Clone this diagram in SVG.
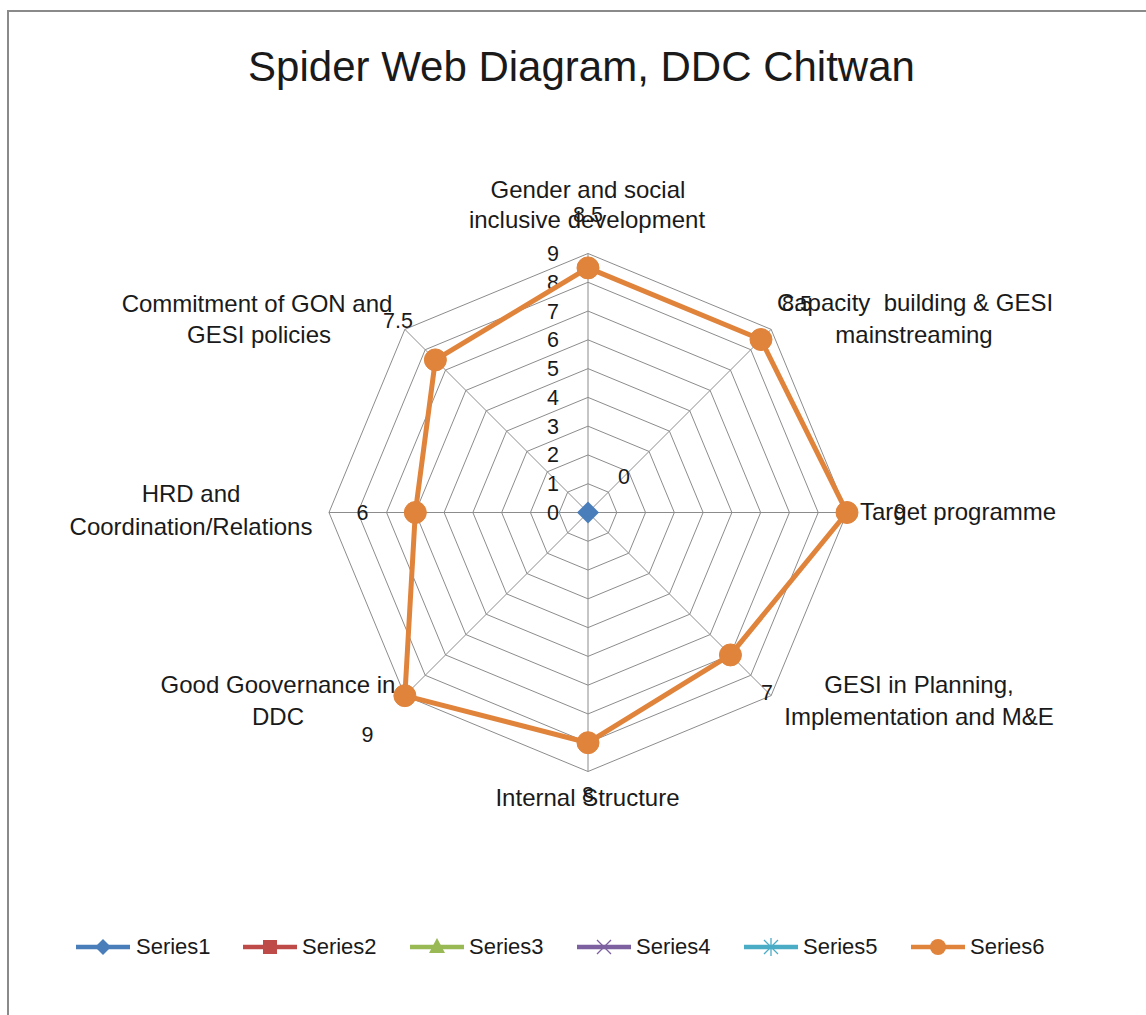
<svg xmlns="http://www.w3.org/2000/svg" width="1146" height="1015" viewBox="0 0 1146 1015">
<style>
text{font-family:"Liberation Sans",Arial,sans-serif;fill:#1a1a1a}
.ring,.spoke{fill:none;stroke:#8c8c8c;stroke-width:1}
.ax{font-size:24px;text-anchor:middle}
.tick{font-size:21.5px;text-anchor:end}
.dl{font-size:21.5px;text-anchor:middle}
.lg{font-size:22px}
.s6{stroke:#E0833B;fill:#E0833B}
</style>
<rect x="8" y="11" width="1160" height="1030" fill="#ffffff" stroke="#8a8a8a" stroke-width="2"/>
<g id="title"><text x="581.5" y="81" font-size="42" text-anchor="middle">Spider Web Diagram, DDC Chitwan</text></g>
<g id="grid" transform="translate(588,512.5)">
<polygon class="ring" points="0,-28.78 20.35,-20.35 28.78,0 20.35,20.35 0,28.78 -20.35,20.35 -28.78,0 -20.35,-20.35"/>
<polygon class="ring" points="0,-57.56 40.7,-40.7 57.56,0 40.7,40.7 0,57.56 -40.7,40.7 -57.56,0 -40.7,-40.7"/>
<polygon class="ring" points="0,-86.33 61.05,-61.05 86.33,0 61.05,61.05 0,86.33 -61.05,61.05 -86.33,0 -61.05,-61.05"/>
<polygon class="ring" points="0,-115.11 81.4,-81.4 115.11,0 81.4,81.4 0,115.11 -81.4,81.4 -115.11,0 -81.4,-81.4"/>
<polygon class="ring" points="0,-143.89 101.75,-101.75 143.89,0 101.75,101.75 0,143.89 -101.75,101.75 -143.89,0 -101.75,-101.75"/>
<polygon class="ring" points="0,-172.67 122.1,-122.1 172.67,0 122.1,122.1 0,172.67 -122.1,122.1 -172.67,0 -122.1,-122.1"/>
<polygon class="ring" points="0,-201.44 142.44,-142.44 201.44,0 142.44,142.44 0,201.44 -142.44,142.44 -201.44,0 -142.44,-142.44"/>
<polygon class="ring" points="0,-230.22 162.79,-162.79 230.22,0 162.79,162.79 0,230.22 -162.79,162.79 -230.22,0 -162.79,-162.79"/>
<polygon class="ring" points="0,-259 183.14,-183.14 259,0 183.14,183.14 0,259 -183.14,183.14 -259,0 -183.14,-183.14"/>
<path class="spoke" d="M0,0V-259M0,0L183.14,-183.14M0,0H259M0,0L183.14,183.14M0,0V259M0,0L-183.14,183.14M0,0H-259M0,0L-183.14,-183.14"/>
</g>
<g id="ticks">
<text class="tick" x="559" y="520">0</text>
<text class="tick" x="559" y="491.2">1</text>
<text class="tick" x="559" y="462.4">2</text>
<text class="tick" x="559" y="433.7">3</text>
<text class="tick" x="559" y="404.9">4</text>
<text class="tick" x="559" y="376.1">5</text>
<text class="tick" x="559" y="347.3">6</text>
<text class="tick" x="559" y="318.5">7</text>
<text class="tick" x="559" y="289.8">8</text>
<text class="tick" x="559" y="261">9</text>
</g>
<g id="axis-gender"><text class="ax" x="588" y="198">Gender and social</text><text class="ax" x="587" y="228">inclusive development</text></g>
<g id="axis-capacity"><text class="ax" x="915" y="311">Capacity&#160; building &amp; GESI</text><text class="ax" x="914" y="343">mainstreaming</text></g>
<g id="axis-target"><text class="ax" x="860" y="520" text-anchor="start" style="text-anchor:start">Target programme</text></g>
<g id="axis-gesi-planning"><text class="ax" x="919" y="693">GESI in Planning,</text><text class="ax" x="919" y="725">Implementation and M&amp;E</text></g>
<g id="axis-internal"><text class="ax" x="587.5" y="806">Internal Structure</text></g>
<g id="axis-governance"><text class="ax" x="278" y="693">Good Goovernance in</text><text class="ax" x="278" y="725">DDC</text></g>
<g id="axis-hrd"><text class="ax" x="191" y="502">HRD and</text><text class="ax" x="191" y="535">Coordination/Relations</text></g>
<g id="axis-commitment"><text class="ax" x="257" y="312">Commitment of GON and</text><text class="ax" x="259" y="343">GESI policies</text></g>
<g id="connectors" transform="translate(588,512.5)">
<polygon points="0,-244.61 172.97,-172.97 259,0 142.44,142.44 0,230.22 -183.14,183.14 -172.67,0 -152.62,-152.62" fill="none" stroke="#E0833B" stroke-width="5" stroke-linejoin="round"/>
</g>
<g id="series6-markers" class="s6" transform="translate(588,512.5)">
<circle cx="0" cy="-244.61" r="11"/>
<circle cx="172.97" cy="-172.97" r="11"/>
<circle cx="259" cy="0" r="11"/>
<circle cx="142.44" cy="142.44" r="11"/>
<circle cx="0" cy="230.22" r="11"/>
<circle cx="-183.14" cy="183.14" r="11"/>
<circle cx="-172.67" cy="0" r="11"/>
<circle cx="-152.62" cy="-152.62" r="11"/>
</g>
<g id="series1"><polygon points="588,501.5 599,512.5 588,523.5 577,512.5" fill="#4A7EBB"/></g>
<g id="data-labels">
<text class="dl" x="624" y="484">0</text>
<text class="dl" x="588" y="222">8.5</text>
<text class="dl" x="797" y="311">8.5</text>
<text class="dl" x="900" y="519">9</text>
<text class="dl" x="767" y="700">7</text>
<text class="dl" x="588" y="802">8</text>
<text class="dl" x="367.5" y="742">9</text>
<text class="dl" x="362.5" y="520">6</text>
<text class="dl" x="398" y="328">7.5</text>
</g>
<g id="legend">
<g id="legend-series1"><line x1="76" y1="947" x2="130" y2="947" stroke="#4A7EBB" stroke-width="4.5"/><polygon points="103,939 111,947 103,955 95,947" fill="#4A7EBB"/><text class="lg" x="136" y="954">Series1</text></g>
<g id="legend-series2"><line x1="243" y1="947" x2="297" y2="947" stroke="#BE4B48" stroke-width="4.5"/><rect x="263" y="940" width="14" height="14" fill="#BE4B48"/><text class="lg" x="302" y="954">Series2</text></g>
<g id="legend-series3"><line x1="410" y1="947" x2="464" y2="947" stroke="#98B954" stroke-width="4.5"/><polygon points="437,938 445,953 429,953" fill="#98B954"/><text class="lg" x="469" y="954">Series3</text></g>
<g id="legend-series4"><line x1="577" y1="947" x2="631" y2="947" stroke="#7D60A0" stroke-width="4.5"/><path d="M597,940L611,954M611,940L597,954" stroke="#7D60A0" stroke-width="1.3"/><text class="lg" x="636" y="954">Series4</text></g>
<g id="legend-series5"><line x1="744" y1="947" x2="798" y2="947" stroke="#4BACC6" stroke-width="4.5"/><path d="M764,940L778,954M778,940L764,954M771,938V956" stroke="#4BACC6" stroke-width="1.3"/><text class="lg" x="803" y="954">Series5</text></g>
<g id="legend-series6"><line x1="911" y1="947" x2="965" y2="947" stroke="#E0833B" stroke-width="4.5"/><circle cx="938" cy="947" r="8" fill="#E0833B"/><text class="lg" x="970" y="954">Series6</text></g>
</g>
</svg>
